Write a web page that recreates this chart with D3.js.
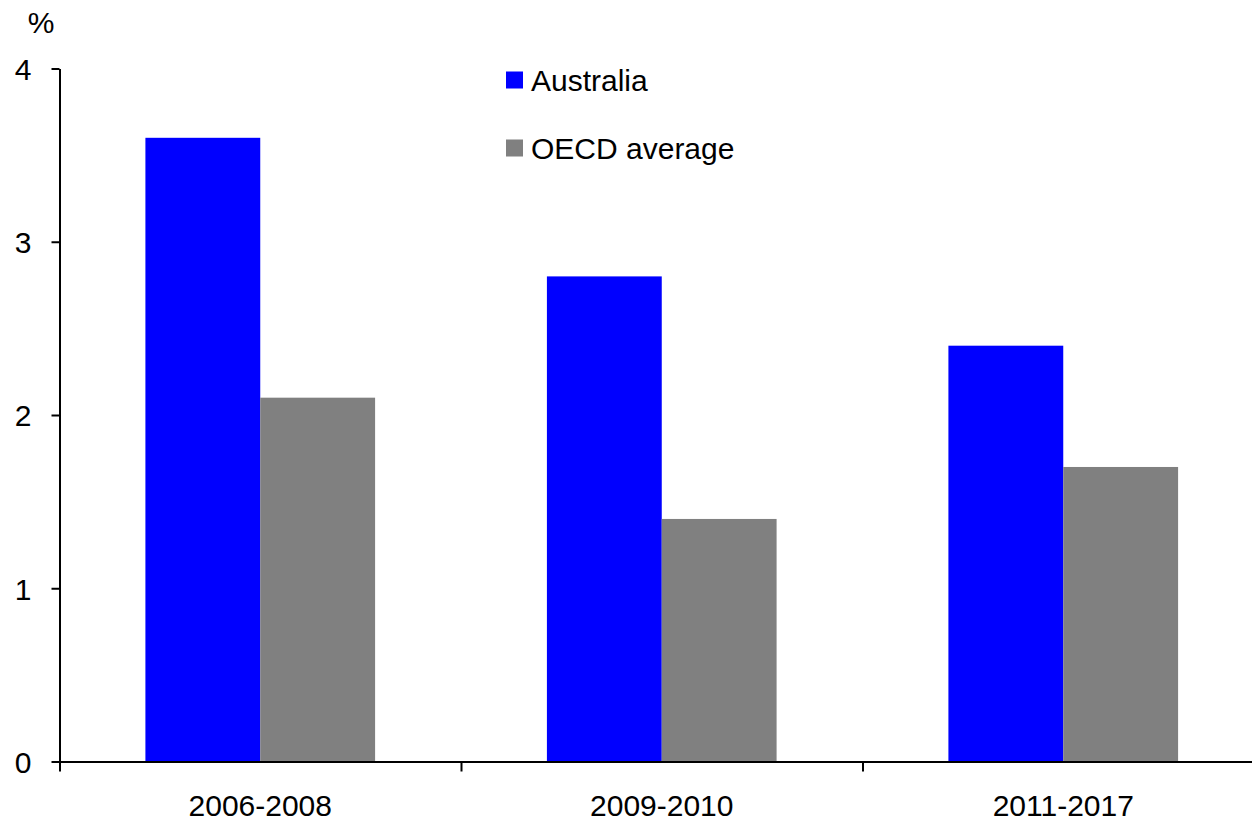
<!DOCTYPE html>
<html>
<head>
<meta charset="utf-8">
<script src="https://cdn.jsdelivr.net/npm/d3@7"></script>
<style>
  html, body { margin: 0; padding: 0; background: #fff; }
  svg { display: block; font-family: "Liberation Sans", Arial, sans-serif; }
</style>
</head>
<body>
<svg id="chart" width="1252" height="823"></svg>
<script>
// Periods and series values (%)
const periods = ["2006-2008", "2009-2010", "2011-2017"];
const seriesNames = ["Australia", "OECD average"];
const australia = [3.6, 2.8, 2.4];
const oecd = [2.1, 1.4, 1.7];
const yTicks = [0, 1, 2, 3, 4];
const colors = ["#0000ff", "#808080"];

const svg = d3.select("#chart");
const plotLeft = 59.5, plotRight = 1264, plotTop = 68.5, plotBottom = 761.5;
const fontSize = 30;

const y = d3.scaleLinear().domain([0, 4]).range([plotBottom, plotTop]);
const x0 = d3.scaleBand().domain(periods).range([plotLeft, plotRight]).paddingInner(0).paddingOuter(0);
const x1 = d3.scaleBand().domain(seriesNames).range([0, x0.bandwidth()]).paddingInner(0).paddingOuter(0.748);

const rows = periods.map((p, i) => ({ period: p, values: [australia[i], oecd[i]] }));

// bars
const groups = svg.append("g").selectAll("g").data(rows).join("g")
  .attr("transform", d => `translate(${x0(d.period)},0)`);
groups.selectAll("rect").data(d => d.values.map((v, j) => ({ name: seriesNames[j], v, j })))
  .join("rect")
  .attr("x", d => x1(d.name))
  .attr("width", x1.bandwidth())
  .attr("y", d => y(d.v))
  .attr("height", d => y(0) - y(d.v))
  .attr("fill", d => colors[d.j]);

// y axis
const yAxis = svg.append("g").attr("transform", `translate(${plotLeft},0)`)
  .call(d3.axisLeft(y).tickValues(yTicks).tickFormat(d3.format("d")).tickSize(8).tickSizeOuter(0).tickPadding(20));
yAxis.select(".domain").attr("stroke", "#000").attr("stroke-width", 2);
yAxis.selectAll(".tick line").attr("stroke", "#000").attr("stroke-width", 2);
yAxis.selectAll(".tick text").attr("font-size", fontSize).attr("fill", "#000")
  .attr("font-family", "Liberation Sans, Arial, sans-serif").attr("dy", "0.36em");

// x axis: boundary ticks between periods
const xb = d3.scaleLinear().domain([0, periods.length]).range([plotLeft, plotRight]);
const xAxis = svg.append("g").attr("transform", `translate(0,${plotBottom})`)
  .call(d3.axisBottom(xb).tickValues(d3.range(periods.length + 1)).tickFormat("").tickSize(10).tickSizeOuter(0));
xAxis.select(".domain").attr("stroke", "#000").attr("stroke-width", 2);
xAxis.selectAll(".tick line").attr("stroke", "#000").attr("stroke-width", 2);

// x axis: period labels at band centres
const xLab = svg.append("g").attr("transform", `translate(0,${plotBottom})`)
  .call(d3.axisBottom(x0).tickSize(0).tickPadding(33));
xLab.select(".domain").remove();
xLab.selectAll(".tick text").attr("font-size", fontSize).attr("fill", "#000")
  .attr("font-family", "Liberation Sans, Arial, sans-serif");

// unit label
svg.append("text").attr("x", 41).attr("y", 33).attr("text-anchor", "middle")
  .attr("font-size", fontSize).text("%");

// legend
const legendY = [80, 148];
const legend = svg.append("g").selectAll("g").data(seriesNames).join("g")
  .attr("transform", (d, i) => `translate(506,${legendY[i]})`);
legend.append("rect").attr("x", 0).attr("y", -8.5).attr("width", 17).attr("height", 17)
  .attr("fill", (d, i) => colors[i]);
legend.append("text").attr("x", 25).attr("y", 0).attr("dy", "0.36em")
  .attr("font-size", fontSize).attr("fill", "#000").text(d => d);
</script>
</body>
</html>
